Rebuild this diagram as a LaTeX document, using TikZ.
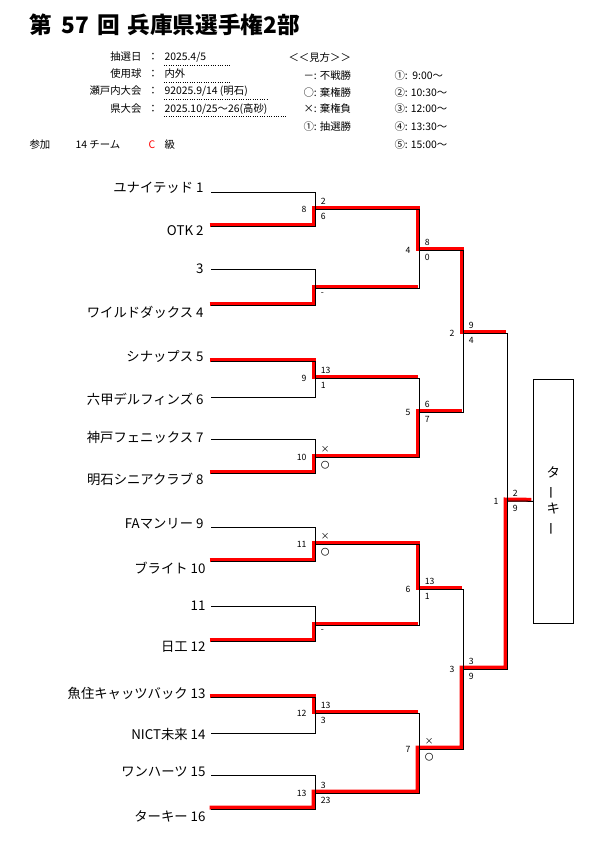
\documentclass[tikz,border=0pt]{standalone}
\usepackage{fontspec}
\setmainfont{Noto Sans CJK JP}
\usetikzlibrary{positioning}

\begin{document}
\begin{tikzpicture}[x=0.75pt, y=-0.75pt, line width=0.75pt,
  team/.style = {anchor=east, inner sep=0pt, font=\fontsize{10}{11}\selectfont},
  sc/.style = {inner sep=0pt, font=\fontsize{6.5}{7}\selectfont},
  hd/.style = {inner sep=0pt, font=\fontsize{7.8}{8}\selectfont},
  win/.style = {draw=red, line width=3pt, transform canvas={xshift=-1.125pt, yshift=1.125pt}}]
\useasboundingbox (0,0) rectangle (614,860);

% header
\node[anchor=west, inner sep=0pt, font=\fontsize{17}{18}\selectfont\bfseries] (title) at (29,25)
  {第\hspace{0.4em}57\hspace{0.4em}回\hspace{0.3em}兵庫県選手権2部};
\node[hd, anchor=east] (l1) at (142,57) {抽選日};
\node[hd, anchor=east] (l2) at (142,74) {使用球};
\node[hd, anchor=east] (l3) at (142,91) {瀬戸内大会};
\node[hd, anchor=east] (l4) at (142,109) {県大会};
\foreach \k/\y in {1/57,2/74,3/91,4/109}
  \node[hd] (c\k) at (153,\y) {：};
\node[hd, anchor=west] (v1) at (164,57) {2025.4/5};
\node[hd, anchor=west] (v2) at (164,74) {内外};
\node[hd, anchor=west] (v3) at (164,91) {92025.9/14 (明石)};
\node[hd, anchor=west] (v4) at (164,109) {2025.10/25～26(高砂)};
\draw[densely dotted] (164,65) -- (230,65);
\draw[densely dotted] (164,82) -- (230,82);
\draw[densely dotted] (164,99) -- (268,99);
\draw[densely dotted] (164,116) -- (286,116);
\node[hd, anchor=west] (key) at (288,58) {＜＜見方＞＞};
\node[hd, anchor=west] (k1) at (303,76) {－: 不戦勝};
\node[hd, anchor=west] (k2) at (303,93) {○: 棄権勝};
\node[hd, anchor=west] (k3) at (303,109) {×: 棄権負};
\node[hd, anchor=west] (k4) at (303,127) {①: 抽選勝};
\node[hd, anchor=west] (h1) at (394,76) {①:\ \ 9:00～};
\node[hd, anchor=west] (h2) at (394,93) {②: 10:30～};
\node[hd, anchor=west] (h3) at (394,109) {③: 12:00～};
\node[hd, anchor=west] (h4) at (394,127) {④: 13:30～};
\node[hd, anchor=west] (h5) at (394,145) {⑤: 15:00～};
\node[hd, anchor=west] (sanka) at (29,145) {参加};
\node[hd, anchor=west] (num) at (75,145) {14 チーム};
\node[hd, anchor=west, text=red] (cls) at (148,145) {C};
\node[hd, anchor=west] (kyu) at (164,145) {級};

% teams
\node[team] (t1) at (204,188) {ユナイテッド 1};
\node[team] (t2) at (204,231) {OTK 2};
\node[team] (t3) at (204,269) {3};
\node[team] (t4) at (204,312) {ワイルドダックス 4};
\node[team] (t5) at (204,356) {シナップス 5};
\node[team] (t6) at (204,399) {六甲デルフィンズ 6};
\node[team] (t7) at (204,437) {神戸フェニックス 7};
\node[team] (t8) at (204,479) {明石シニアクラブ 8};
\node[team] (t9) at (204,524) {FAマンリー 9};
\node[team] (t10) at (206,568) {ブライト 10};
\node[team] (t11) at (206,606) {11};
\node[team] (t12) at (206,647) {日工 12};
\node[team] (t13) at (206,693) {魚住キャッツバック 13};
\node[team] (t14) at (206,734) {NICT未来 14};
\node[team] (t15) at (206,772) {ワンハーツ 15};
\node[team] (t16) at (206,816) {ターキー 16};
\foreach \i/\y in {1/192,2/226,3/269,4/305,5/361,6/397,7/439,8/473,
                   9/527,10/561,11/606,12/641,13/697,14/733,15/775,16/809}
  \coordinate (a\i) at (211,\y);

% matches
\foreach \j/\y in {1/209,2/288,3/378,4/457,5/544,6/625,7/713,8/793}
  \coordinate (m\j) at (315,\y);
\foreach \j/\y in {1/250,2/412,3/589,4/749}
  \coordinate (q\j) at (419,\y);
\coordinate (s1) at (463,333);
\coordinate (s2) at (463,669);
\coordinate (f) at (507,501);
\node[draw, minimum width=30pt, minimum height=183pt, inner sep=0pt, align=center,
  font=\fontsize{10}{13.5}\selectfont] (champ) at (553.3,501.3)
  {タ\\\rotatebox[origin=c]{90}{ー}\\キ\\\rotatebox[origin=c]{90}{ー}};

% winners
\draw[win] (a2) -| (m1) -| (q1) -| (s1) -- (s1 -| f);
\draw[win] (a4) -| (m2) -- (m2 -| q1);
\draw[win] (a5) -| (m3) -- (m3 -| q2);
\draw[win] (a8) -| (m4) -| (q2) -- (q2 -| s1);
\draw[win] (a10) -| (m5) -| (q3) -- (q3 -| s2);
\draw[win] (a12) -| (m6) -- (m6 -| q3);
\draw[win] (a13) -| (m7) -- (m7 -| q4);
\draw[win] (a16) -| (m8) -| (q4) -| (s2) -| (f) -- (champ.west);

% bracket
\foreach \i/\j in {1/1,2/1,3/2,4/2,5/3,6/3,7/4,8/4,9/5,10/5,11/6,12/6,13/7,14/7,15/8,16/8}
  \draw (a\i) -| (m\j);
\foreach \i/\j in {m1/q1,m2/q1,m3/q2,m4/q2,m5/q3,m6/q3,m7/q4,m8/q4,q1/s1,q2/s1,q3/s2,q4/s2,s1/f,s2/f}
  \draw (\i) -| (\j);
\draw (f) -- (champ.west);

% scores
\foreach \m/\n/\t/\b in {m1/8/2/6, m3/9/13/1, m4/10/×/〇, m5/11/×/〇, m7/12/13/3, m8/13/3/23,
                         q1/4/8/0, q2/5/6/7, q3/6/13/1, q4/7/×/〇, s1/2/9/4, s2/3/3/9, f/1/2/9} {
  \node[sc, left=6pt of \m] (\m-n) {\n};
  \node[sc, above right=3pt and 4pt of \m] (\m-t) {\t};
  \node[sc, below right=3pt and 4pt of \m] (\m-b) {\b};
}
\node[sc, below right=3pt and 4pt of m2] (m2-b) {-};
\node[sc, below right=3pt and 4pt of m6] (m6-b) {-};
\end{tikzpicture}
\end{document}
